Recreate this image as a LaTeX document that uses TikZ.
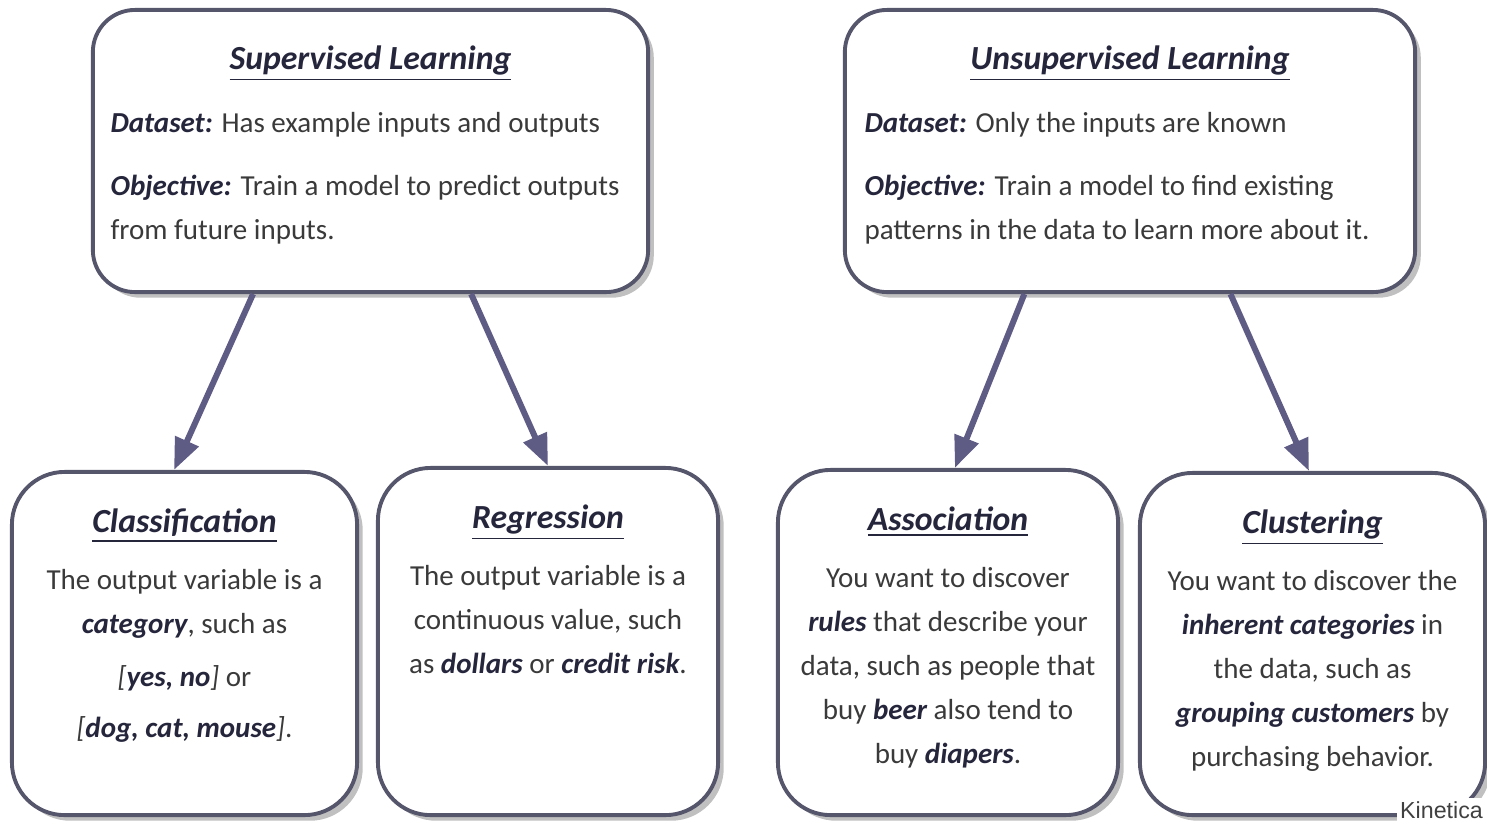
\documentclass[tikz,border=0pt]{standalone}
\usepackage{fontspec}
\setmainfont{Carlito}
\newfontfamily\marcafont{Liberation Sans}
\usetikzlibrary{positioning,calc,shadows,arrows.meta}
\definecolor{borde}{HTML}{55556B}
\definecolor{flechac}{HTML}{5E5B84}
\definecolor{tinta}{HTML}{3A3A3A}
\definecolor{oscuro}{HTML}{25253C}
\newcommand{\resalta}[1]{\textbf{\textit{\color{oscuro}#1}}}
\tikzset{
  caja/.style={draw=borde,line width=1.1pt,fill=white,rounded corners=#1,
    drop shadow={shadow xshift=1.6pt,shadow yshift=-1.6pt,opacity=.45,fill=black!55}},
  caja/.default=12pt,
  cabeza/.style={font=\fontsize{9.6}{11}\selectfont\bfseries\itshape,text=oscuro,inner sep=0pt,anchor=base},
  cuerpo/.style={font=\fontsize{8.25}{12.5}\selectfont,text=tinta,inner sep=0pt,align=#1},
  flecha/.style={draw=flechac,line width=1.7pt,-{Triangle[length=9pt,width=7pt]}}
}
\begin{document}
\begin{tikzpicture}[x=0.01cm,y=-0.01cm]
	\useasboundingbox (0,0) rectangle (1487,823);

	\node[caja,minimum width=5.55cm,minimum height=2.82cm] (sup) at (370.5,151) {};
	\node[caja,minimum width=5.70cm,minimum height=2.82cm] (unsup) at (1130,151) {};
	\node[cabeza] (supT) at ([yshift=-0.61cm]sup.north) {\underline{Supervised Learning}};
	\node[cabeza] (unsupT) at ([yshift=-0.61cm]unsup.north) {\underline{Unsupervised Learning}};
	\node[cuerpo=left,anchor=north west] (supC) at ([shift={(0.19cm,-1.04cm)}]sup.north west)
		{\resalta{Dataset:} Has example inputs and outputs\\[0.19cm]
		 \resalta{Objective:} Train a model to predict outputs\\ from future inputs.};
	\node[cuerpo=left,anchor=north west] (unsupC) at ([shift={(0.21cm,-1.04cm)}]unsup.north west)
		{\resalta{Dataset:} Only the inputs are known\\[0.19cm]
		 \resalta{Objective:} Train a model to find existing\\ patterns in the data to learn more about it.};

	\foreach \Nombre/\X/\Y/\Ancho/\Alto/\Titulo in {cls/184.5/643.5/3.45/3.43/Classification,
		reg/548/641.5/3.40/3.47/Regression,asc/948/642.5/3.40/3.45/Association,
		clu/1312.5/644/3.45/3.42/Clustering} {
		\node[caja=15pt,minimum width=\Ancho cm,minimum height=\Alto cm] (\Nombre) at (\X,\Y) {};
		\node[cabeza] (\Nombre T) at ([yshift=-0.62cm]\Nombre.north) {\underline{\Titulo}};
	}

	\node[cuerpo=center,anchor=north] (clsC) at ([yshift=-0.99cm]cls.north)
		{The output variable is a\\ \resalta{category}, such as\\[2.6pt]
		 \textit{[}\resalta{yes, no}\textit{]} or\\[1.8pt] \textit{[}\resalta{dog, cat, mouse}\textit{]}.};
	\node[cuerpo=center,anchor=north] (regC) at ([yshift=-0.99cm]reg.north)
		{The output variable is a\\ continuous value, such\\ as \resalta{dollars} or \resalta{credit risk}.};
	\node[cuerpo=center,anchor=north] (ascC) at ([yshift=-0.99cm]asc.north)
		{You want to discover\\ \resalta{rules} that describe your\\ data, such as people that\\
		 buy \resalta{beer} also tend to\\ buy \resalta{diapers}.};
	\node[cuerpo=center,anchor=north] (cluC) at ([yshift=-0.99cm]clu.north)
		{You want to discover the\\ \resalta{inherent categories} in\\ the data, such as\\
		 \resalta{grouping customers} by\\ purchasing behavior.};

	\foreach \Desde/\Fd/\Hasta/\Fh in {sup/0.29/cls/0.47,sup/0.68/reg/0.5,unsup/0.316/asc/0.52,unsup/0.675/clu/0.49} {
		\draw[flecha] ($(\Desde.south west)!\Fd!(\Desde.south east)$) -- ($(\Hasta.north west)!\Fh!(\Hasta.north east)$);
	}

	\node[fill=white,inner sep=1pt,anchor=south east,font=\marcafont\fontsize{6.6}{7.5}\selectfont,text=black!75] (marca) at (1487,823) {Kinetica};
\end{tikzpicture}
\end{document}
